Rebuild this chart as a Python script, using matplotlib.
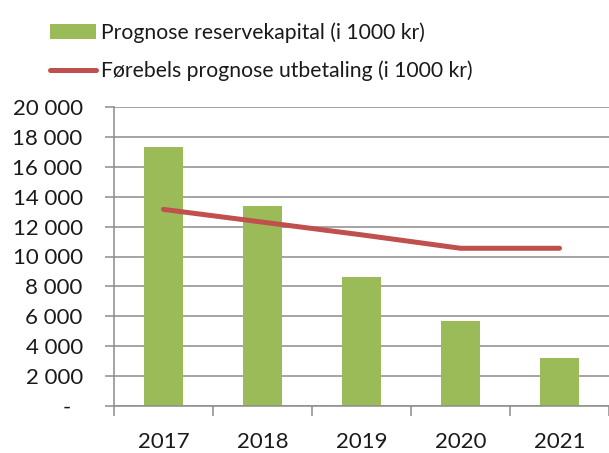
import matplotlib
matplotlib.use("Agg")
import matplotlib.pyplot as plt
import numpy as np

years = ["2017", "2018", "2019", "2020", "2021"]
reservekapital = [17300, 13400, 8600, 5700, 3200]
utbetaling = [13150, 12300, 11450, 10550, 10550]
ytick_values = [0, 2000, 4000, 6000, 8000, 10000, 12000, 14000, 16000, 18000, 20000]
ytick_labels = ["-  ", "2 000", "4 000", "6 000", "8 000", "10 000", "12 000",
                "14 000", "16 000", "18 000", "20 000"]
bar_label = "Prognose reservekapital (i 1000 kr)"
line_label = "Førebels prognose utbetaling (i 1000 kr)"

plt.rcParams['font.family'] = ['Lato', 'DejaVu Sans']
txt = "#1a1a1a"
grid = "#8c8c8c"

fig = plt.figure(figsize=(6.09, 4.53), dpi=100)
ax = fig.add_axes([114/609, 47/453, 1 - 114/609, (406-107)/453])

x = np.arange(len(years))
bars = ax.bar(x, reservekapital, width=0.4, color="#9BBB59", zorder=2, label=bar_label)
line, = ax.plot(x, utbetaling, color="#C0504D", lw=3.6, solid_capstyle="round",
                zorder=3, label=line_label)

ax.set_xlim(-0.5, len(years) - 0.5)
ax.set_ylim(0, 20000)
ax.set_yticks(ytick_values)
ax.set_yticklabels(ytick_labels, fontsize=16, color=txt)
ax.yaxis.grid(True, color=grid, lw=1.1, zorder=0)
ax.set_axisbelow(True)
ax.tick_params(axis="y", length=6.5, width=1.1, color=grid, pad=16)

ax.set_xticks(x)
ax.set_xticklabels(years, fontsize=16, color=txt)
ax.set_xticks(np.arange(-0.5, len(years)), minor=True)
ax.tick_params(axis="x", which="major", length=0, pad=19)
ax.tick_params(axis="x", which="minor", length=7, width=1.1, color=grid)

for s in ["top", "right"]:
    ax.spines[s].set_visible(False)
for s in ["left", "bottom"]:
    ax.spines[s].set_color(grid)
    ax.spines[s].set_linewidth(1.1)

leg = fig.legend(handles=[bars, line], labels=[bar_label, line_label],
                 loc="upper left", bbox_to_anchor=(50/609, 1 - 22/453),
                 frameon=False, fontsize=15.2, handlelength=2.2, handletextpad=0.2,
                 labelspacing=0.85, borderpad=0, borderaxespad=0)
for t in leg.get_texts():
    t.set_color(txt)

fig.savefig("out.png", dpi=100)
